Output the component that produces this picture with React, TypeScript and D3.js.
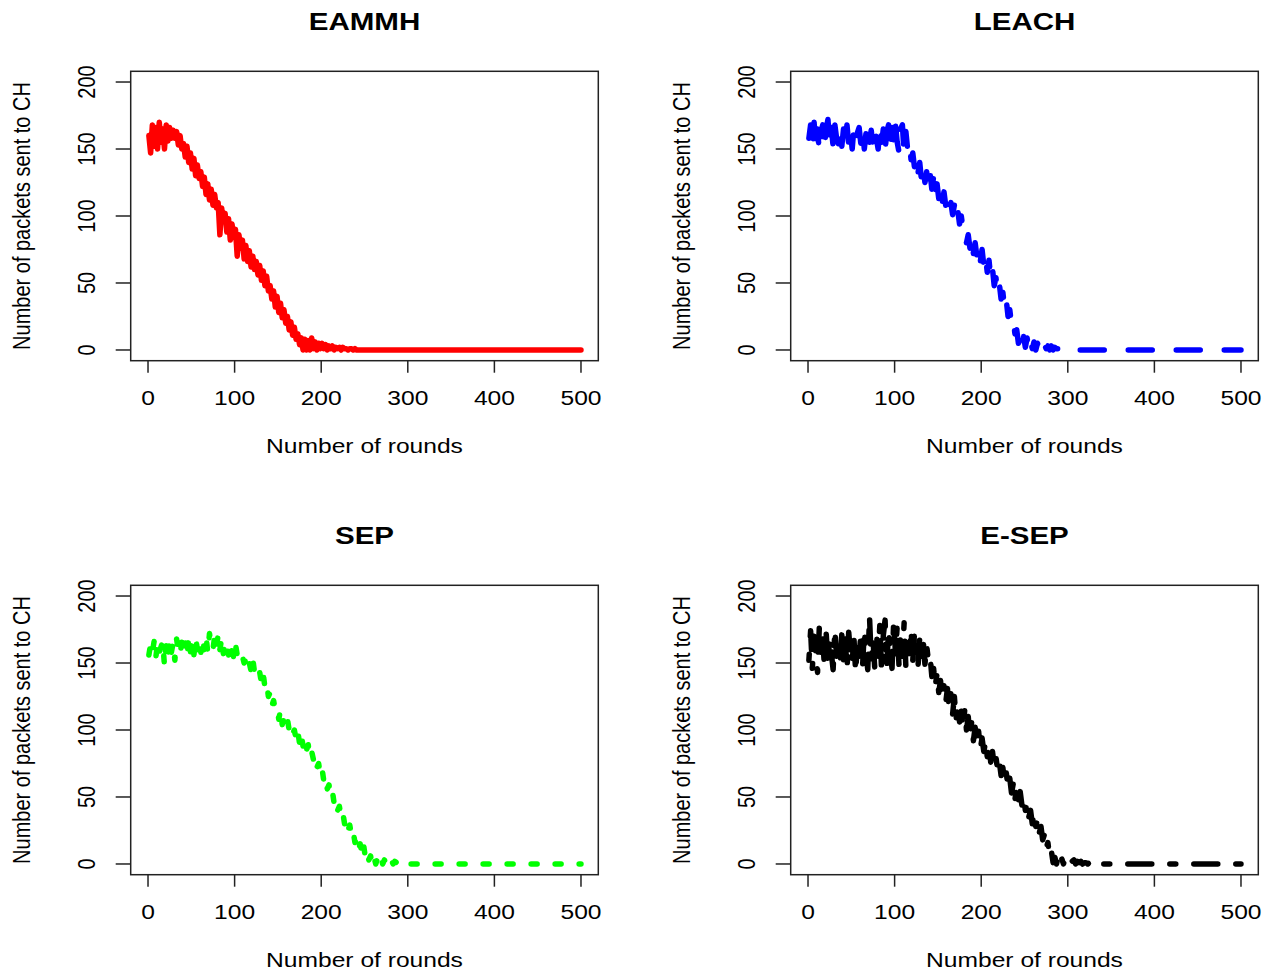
import React from 'react';
import * as d3 from 'd3';

// ---------- data ----------
const ROUND_STEP = 2; // values are sampled at rounds 1, 3, 5, ...
const X_TICKS = [0, 100, 200, 300, 400, 500];
const Y_TICKS = [0, 50, 100, 150, 200];
const TITLES = ['EAMMH', 'LEACH', 'SEP', 'E-SEP'];
const X_LABEL = 'Number of rounds';
const Y_LABEL = 'Number of packets sent to CH';

const eammhValues = [
  160, 147, 168, 152, 166, 150, 170, 155, 165, 150, 168, 156, 166, 158, 164,
  158, 163, 153, 160, 150,
  154, 144, 152, 140, 147, 135, 143, 130, 138, 128,
  133, 122, 129, 116, 124, 112, 120, 108, 116, 106,
  110, 86, 106, 96, 102, 88, 98, 82, 94, 84,
  90, 70, 86, 76, 82, 68, 78, 66, 74, 62,
  70, 60, 66, 56, 63, 52, 59, 48, 55, 44,
  48, 38, 44, 32, 40, 28, 35, 24, 30, 20,
  25, 15, 21, 11, 17, 8, 12, 4, 9, 0,
  8, 0, 7, 0, 9, 1, 6, 0, 5, 1,
  5, 1, 4, 0, 3, 1, 3, 0, 2, 1,
  2, 0, 2, 1, 1, 0, 1, 1, 0, 1, 0, 0, 0, 0, 0,
];
const eammhTail = [[300, 0], [400, 0], [500, 0]];

const leachValues = [
  158, 168, 150, 170, 152, 165, 148, 163, 168, 150,
  165, 172, 155, 166, 152, 168, 158, 154, 166, 152,
  165, 155, 168, 153, 163, 150, 166, 157, 162, 166,
  154, 164, 150, 162, 167, 155, 164, 152, 163, 158,
  150, 168, 155, 165, 149, 163, 168, 152, 166, 154,
  168, 155, 148, 165, 168, 146, 163, 150, 155, 142,
  147, 136, 142, 132, 140, 127, 136, 125, 133, 122,
  132, 120, 129, 116, 124, 113, 121, 110, 118, 108,
  115, 106, 110, 101, 108, 98, 104, 94, 100, 90,
  90, 80, 86, 76, 84, 72, 80, 70, 76, 66,
  75, 63, 70, 58, 67, 54, 61, 48, 54, 43,
  49, 38, 43, 31, 37, 25, 30, 19, 22, 12,
  15, 5, 8, 0, 10, 2, 9, 0, 6, 1,
  6, 0, 5, 1, 4, 0, 4, 1, 3, 0,
  3, 0, 2, 1, 1, 0, 1, 0, 0, 0,
];
const leachTail = [[400, 0], [500, 0]];

const sepValues = [
  156, 164, 158, 166, 154, 165, 158, 162, 166, 148,
  164, 155, 167, 158, 165, 152, 168, 159, 156, 166,
  158, 165, 155, 168, 158, 166, 156, 169, 160, 167,
  158, 168, 160, 170, 158, 172, 163, 160, 170, 162,
  171, 160, 168, 157, 166, 162, 156, 165, 158, 154,
  164, 156, 158, 153, 155, 150, 153, 146, 150, 144,
  153, 143, 145, 140, 143, 135, 142, 132, 135, 125,
  128, 118, 122, 115, 116, 108, 115, 104, 109, 104,
  108, 100, 103, 97, 100, 93, 99, 90, 97, 88,
  93, 85, 89, 80, 84, 78, 81, 72, 75, 67,
  71, 62, 65, 56, 59, 51, 54, 45, 48, 40,
  43, 35, 38, 30, 33, 25, 29, 21, 24, 16,
  19, 11, 15, 7, 14, 5, 9, 3, 6, 0,
  5, 0, 4, 1, 5, 0, 3, 1, 3, 0,
  3, 0, 2, 1, 2, 0, 1, 1, 1, 0,
];
const sepTail = [[400, 0], [500, 0]];

const esepValues = [
  152, 174, 146, 170, 158, 143, 176, 155, 168, 147,
  172, 150, 168, 157, 145, 175, 155, 166, 148, 171,
  152, 168, 145, 173, 157, 150, 169, 143, 165, 155,
  171, 147, 175, 157, 145, 185, 152, 168, 147, 173,
  155, 179, 143, 171, 182, 148, 175, 159, 146, 182,
  157, 178, 149, 173, 155, 180, 147, 171, 157, 175,
  152, 173, 159, 147, 169, 155, 167, 149, 163, 152,
  155, 140, 146, 133, 142, 128, 137, 124, 133, 120,
  131, 116, 127, 112, 125, 108, 118, 106, 114, 102,
  115, 100, 110, 96, 106, 92, 102, 90, 99, 86,
  94, 84, 91, 80, 89, 76, 84, 74, 80, 70,
  76, 66, 72, 61, 68, 57, 64, 53, 60, 48,
  58, 48, 54, 44, 50, 40, 45, 35, 40, 30,
  38, 28, 33, 23, 28, 18, 22, 12, 16, 6,
  10, 1, 5, 0, 6, 1, 4, 0, 4, 1,
  3, 1, 2, 3, 0, 2, 1, 2, 0, 1,
  1, 0, 1, 1, 0, 1, 0, 0, 1, 0, 0, 0, 0, 0, 0,
];
const esepTail = [[400, 0], [500, 0]];

// ---------- layout ----------
const W = 1271;
const H = 971;
const FONT = '"Liberation Sans", Arial, Helvetica, sans-serif';
const SX = 1.23; // horizontal stretch of the picture
const LW = 5.5;

const panels = [
  { title: TITLES[0], values: eammhValues, tail: eammhTail, color: '#FF0000', dash: 'none', ox: 0, oy: 0 },
  { title: TITLES[1], values: leachValues, tail: leachTail, color: '#0000FF', dash: '24 24', ox: 660, oy: 0 },
  { title: TITLES[2], values: sepValues, tail: sepTail, color: '#00FF00', dash: '6 18', ox: 0, oy: 514 },
  { title: TITLES[3], values: esepValues, tail: esepTail, color: '#000000', dash: '6 18 24 18', ox: 660, oy: 514 },
];

function Panel({ p }: { p: any }) {
  const x = d3.scaleLinear().domain([-20, 520]).range([130.7 + p.ox, 598.3 + p.ox]);
  const y = d3.scaleLinear().domain([-8, 208]).range([360.7 + p.oy, 71.3 + p.oy]);
  const pts: [number, number][] = p.values
    .map((v: number, i: number) => [1 + i * ROUND_STEP, v] as [number, number])
    .concat(p.tail);
  const line = d3.line<[number, number]>().x((d) => x(d[0])).y((d) => y(d[1]));
  const [x0, x1] = x.range();
  const [y0, y1] = y.range();
  const cx = (x0 + x1) / 2;
  const cy = (y0 + y1) / 2;
  return (
    <g>
      <text
        transform={`translate(${cx},${30 + p.oy}) scale(${SX},1)`}
        textAnchor="middle"
        fontFamily={FONT}
        fontWeight="bold"
        fontSize={24}
        fill="#000"
      >
        {p.title}
      </text>
      <path
        d={line(pts) || ''}
        fill="none"
        stroke={p.color}
        strokeWidth={LW}
        strokeLinecap="round"
        strokeLinejoin="round"
        strokeDasharray={p.dash}
      />
      <rect x={x0} y={y1} width={x1 - x0} height={y0 - y1} fill="none" stroke="#222" strokeWidth={1.5} />
      {X_TICKS.map((t) => (
        <g key={'x' + t}>
          <line x1={x(t)} x2={x(t)} y1={y0} y2={y0 + 12} stroke="#222" strokeWidth={1.5} />
          <text
            transform={`translate(${x(t)},${404.5 + p.oy}) scale(${SX},1)`}
            textAnchor="middle"
            fontFamily={FONT}
            fontSize={20}
            fill="#000"
          >
            {t}
          </text>
        </g>
      ))}
      {Y_TICKS.map((t) => (
        <g key={'y' + t}>
          <line x1={x0 - 15} x2={x0} y1={y(t)} y2={y(t)} stroke="#222" strokeWidth={1.5} />
          <text
            transform={`translate(${95 + p.ox},${y(t)}) scale(${SX},1) rotate(-90)`}
            textAnchor="middle"
            fontFamily={FONT}
            fontSize={20}
            fill="#000"
          >
            {t}
          </text>
        </g>
      ))}
      <text
        transform={`translate(${cx},${453 + p.oy}) scale(${SX},1)`}
        textAnchor="middle"
        fontFamily={FONT}
        fontSize={20}
        fill="#000"
      >
        {X_LABEL}
      </text>
      <text
        transform={`translate(${30 + p.ox},${cy}) scale(${SX},1) rotate(-90)`}
        textAnchor="middle"
        fontFamily={FONT}
        fontSize={20}
        fill="#000"
      >
        {Y_LABEL}
      </text>
    </g>
  );
}

export default function App() {
  return (
    <svg
      width={W}
      height={H}
      viewBox={`0 0 ${W} ${H}`}
      style={{ position: 'absolute', left: 0, top: 0, display: 'block', background: '#fff' }}
    >
      <rect x={0} y={0} width={W} height={H} fill="#fff" />
      {panels.map((p) => (
        <Panel key={p.title} p={p} />
      ))}
    </svg>
  );
}
